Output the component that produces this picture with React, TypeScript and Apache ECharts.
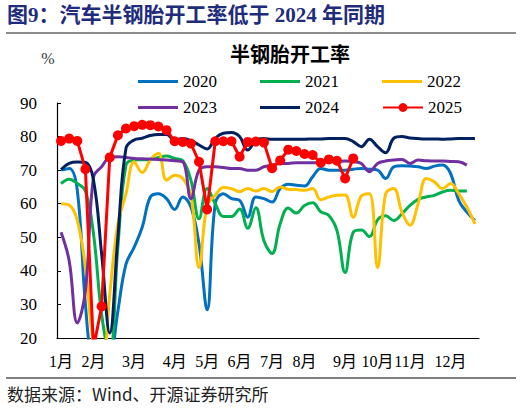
import { useEffect, useRef } from 'react';
import * as echarts from 'echarts';

const SERIF = "'Liberation Serif', 'Times New Roman', 'Noto Sans CJK SC', serif";
const CJK = "'Noto Sans CJK SC', 'Liberation Serif', sans-serif";

// 52 weekly slots on the x axis
const weeks = Array.from({ length: 52 }, (_, i) => `第${i + 1}周`);
const monthLabels = ['1月', '2月', '3月', '4月', '5月', '6月', '7月', '8月', '9月', '10月', '11月', '12月'];
const monthLabelWeeks = [0, 4, 9, 14, 18, 22, 26, 30, 35, 39, 43, 48];

const yearNames = ['2020', '2021', '2022', '2023', '2024', '2025'];
const yearColors = ['#0070C0', '#00B050', '#FFC000', '#7030A0', '#002060', '#FF0000'];

const rate2020 = [70, 70.5, 64, 30, 10, 8, 12, 28, 42, 47, 53, 62, 63, 61.5, 58.3, 62, 59, 48, 28.4, 60, 63, 61.5, 61, 56, 62, 61.5, 60.5, 64.5, 65.8, 65.5, 65.3, 68, 70.5, 70, 70, 70, 70.3, 70.5, 70.3, 70, 67.5, 71, 71.3, 71.2, 71, 70.5, 71.2, 71.5, 69, 61, 57.5, 55];
const rate2021 = [66, 67.3, 66, 63.8, 51, 27, 15, 47, 71.5, 73, 73.1, 73.2, 73.8, 74.2, 73.5, 72.8, 67, 55.5, 64.5, 60, 56.2, 56.2, 58.4, 52.7, 58.8, 49, 45.2, 54, 58.7, 57.2, 59.5, 60.3, 57.6, 56.5, 52, 39.5, 51.5, 52.2, 50.2, 55.2, 56.4, 55, 57, 59.5, 61.3, 62, 62.5, 63.5, 64, 63.8, 63.8];
const rate2022 = [60, 59.6, 55, 41, 18, 10, 33, 54, 63, 72.5, 69.3, 73, 75, 67, 68.5, 67.5, 62.5, 41, 59.5, 62.5, 64.8, 64.5, 63.6, 64.5, 63.8, 64.5, 63.6, 65, 64.3, 64.2, 64, 64.5, 61.2, 62, 62.5, 62.6, 56, 62.3, 63, 41, 63, 64.5, 57.5, 53.6, 60, 67.5, 66.5, 64.5, 66, 63, 59, 54];
const rate2023 = [51.5, 43, 24.5, 34, 68, 71, 73.8, 74, 73.8, 73.5, 73.4, 73.3, 73.2, 73, 72.8, 72.5, 61.5, 70, 71, 71, 70.8, 70.5, 70.5, 70, 70, 71, 71.5, 72, 72, 72.2, 72.2, 72.2, 72.4, 72.5, 72.6, 72.7, 72.5, 72, 69.5, 72, 72.7, 73, 73.2, 72, 73, 72.8, 72.7, 72.7, 72.6, 72.5, 71.5];
const rate2024 = [70.2, 72, 72.4, 72.3, 67, 45, 21.5, 50, 76.5, 79, 79.5, 80.3, 80.6, 80.6, 79, 79.4, 78.8, 77.5, 76.3, 79.5, 81, 81.2, 80, 76, 78.8, 79.4, 79.2, 79.2, 79.2, 79.2, 79.2, 79.3, 79.3, 79.4, 79.4, 79.4, 78.5, 77, 79.2, 77, 75.2, 79.5, 80, 79.6, 79.4, 79.3, 79.3, 79.2, 79.3, 79.4, 79.4, 79.4];
const rate2025 = [78.7, 79.4, 78.7, 70.3, 17, 29.4, 73.8, 80.4, 82.4, 83.1, 83.5, 83.4, 83, 81.9, 78.6, 78.4, 77.9, 72.5, 58.3, 78.6, 78.6, 78.6, 74, 78.4, 78.5, 78.2, 70.6, 72.9, 76.1, 75.7, 74.8, 74.5, 72.2, 73.2, 72.8, 67.5, 73.5];

const yearData = [rate2020, rate2021, rate2022, rate2023, rate2024, rate2025];

// plain line icon for legend entries without markers
const LINE_ICON = 'path://M0,0 L40,0 L40,3 L0,3 Z';

export default function App() {
  const chartRef = useRef<HTMLDivElement>(null);

  useEffect(() => {
    if (!chartRef.current) return;
    const chart = echarts.init(chartRef.current, null, { renderer: 'svg' });

    const legendBase = {
      left: 138,
      itemWidth: 40,
      itemHeight: 11,
      itemGap: 43,
      padding: 0,
      selectedMode: false,
      symbolKeepAspect: true,
      textStyle: { fontSize: 17, fontFamily: SERIF, color: '#000' },
    };

    const legendItem = (name: string) =>
      name === '2025' ? { name } : { name, icon: LINE_ICON };

    const series = yearNames.map((name, idx) => {
      const isLatest = name === '2025';
      return {
        name,
        type: 'line',
        data: yearData[idx],
        smooth: isLatest ? false : 0.4,
        symbol: isLatest ? 'circle' : 'none',
        symbolSize: 10,
        showAllSymbol: true,
        clip: true,
        color: yearColors[idx],
        lineStyle: { width: 3, color: yearColors[idx] },
        itemStyle: { color: yearColors[idx] },
        emphasis: { disabled: true },
      };
    });

    const option: echarts.EChartsOption = {
      animation: false,
      backgroundColor: '#fff',
      grid: { left: 57, right: 43, top: 103, bottom: 70 },
      legend: [
        { ...legendBase, top: 73, data: yearNames.slice(0, 3).map(legendItem) },
        { ...legendBase, top: 99, data: yearNames.slice(3).map(legendItem) },
      ] as any,
      xAxis: {
        type: 'category',
        data: weeks,
        boundaryGap: true,
        axisLine: { lineStyle: { color: '#000', width: 1.2 } },
        axisTick: { inside: true, length: 4, interval: 4, lineStyle: { color: '#000' } },
        axisLabel: {
          interval: (index: number) => monthLabelWeeks.includes(index),
          formatter: (_value: string, index: number) => {
            const k = monthLabelWeeks.indexOf(index);
            return k >= 0 ? monthLabels[k] : '';
          },
          fontSize: 16,
          fontFamily: SERIF,
          color: '#000',
          margin: 15,
        },
        splitLine: { show: false },
      },
      yAxis: {
        type: 'value',
        min: 20,
        max: 90,
        interval: 10,
        axisLine: { show: true, lineStyle: { color: '#000', width: 1.2 } },
        axisTick: { show: true, inside: true, length: 4, lineStyle: { color: '#000' } },
        axisLabel: { fontSize: 17, fontFamily: SERIF, color: '#000', margin: 20 },
        splitLine: { show: false },
      },
      graphic: [
        {
          type: 'text',
          left: 7,
          top: 4,
          style: {
            text: '图9：汽车半钢胎开工率低于 2024 年同期',
            fontSize: 21,
            fontWeight: 'bold',
            fontFamily: SERIF,
            fill: '#1F2C7C',
          },
        },
        {
          type: 'line',
          shape: { x1: 6, y1: 33, x2: 516, y2: 33 },
          style: { stroke: '#8c8c8c', lineWidth: 2 },
        },
        {
          type: 'text',
          x: 290,
          y: 53,
          style: {
            text: '半钢胎开工率',
            fontSize: 20,
            fontWeight: 'bold',
            fontFamily: CJK,
            fill: '#000',
            align: 'center',
            verticalAlign: 'middle',
            textAlign: 'center',
            textVerticalAlign: 'middle',
          } as any,
        },
        {
          type: 'text',
          x: 48,
          y: 58,
          style: {
            text: '%',
            fontSize: 16,
            fontFamily: SERIF,
            fill: '#333',
            align: 'center',
            verticalAlign: 'middle',
            textAlign: 'center',
            textVerticalAlign: 'middle',
          } as any,
        },
        {
          type: 'line',
          shape: { x1: 6, y1: 378, x2: 516, y2: 378 },
          style: { stroke: '#000', lineWidth: 1.2 },
        },
        {
          type: 'text',
          x: 7,
          y: 393,
          style: {
            text: '数据来源：Wind、开源证券研究所',
            fontSize: 17,
            fontFamily: CJK,
            fill: '#222',
            verticalAlign: 'middle',
            textVerticalAlign: 'middle',
          } as any,
        },
      ],
      series: series as any,
    };

    chart.setOption(option);

    return () => {
      chart.dispose();
    };
  }, []);

  return (
    <div
      ref={chartRef}
      style={{ position: 'absolute', left: 0, top: 0, width: 522, height: 408 }}
    />
  );
}
